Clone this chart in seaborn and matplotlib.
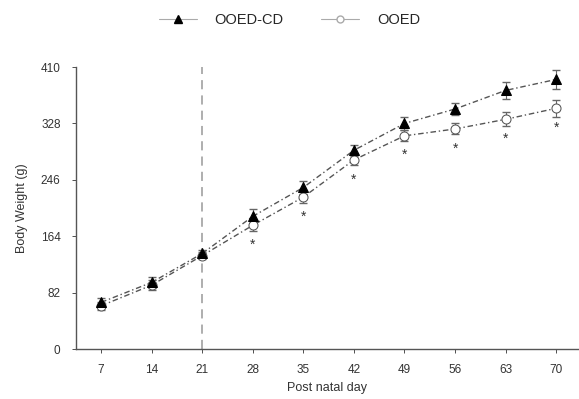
import matplotlib
matplotlib.use("Agg")
import matplotlib.pyplot as plt
import seaborn as sns
import pandas as pd
from matplotlib.lines import Line2D

days = [7, 14, 21, 28, 35, 42, 49, 56, 63, 70]
cd_mean = [68, 97, 139, 193, 235, 289, 328, 349, 376, 392]
cd_err = [6, 8, 5, 10, 9, 8, 9, 9, 12, 14]
ooed_mean = [63, 93, 136, 180, 221, 275, 310, 320, 334, 350]
ooed_err = [6, 7, 5, 8, 9, 8, 8, 8, 10, 12]
sig_days = [28, 35, 42, 49, 56, 63, 70]
yticks = [0, 82, 164, 246, 328, 410]

sns.set_style("ticks")
plt.rcParams['font.family'] = ['Liberation Sans', 'DejaVu Sans']

df = pd.DataFrame({
    "day": days * 2,
    "weight": cd_mean + ooed_mean,
    "group": ["OOED-CD"] * len(days) + ["OOED"] * len(days),
})

fig = plt.figure(figsize=(5.79, 3.99), dpi=100)
ax = fig.add_axes([0.131, 0.125, 0.867, 0.707])

ls = (0, (4, 2, 1, 2))
ax.axvline(21, color="#999999", linestyle=(0, (6, 4)), linewidth=1.1, zorder=1)

ax.errorbar(days, cd_mean, yerr=cd_err, fmt="none", ecolor="#666666", elinewidth=0.8, capsize=3, zorder=2)
ax.errorbar(days, ooed_mean, yerr=ooed_err, fmt="none", ecolor="#666666", elinewidth=0.8, capsize=3, zorder=2)

sns.lineplot(data=df[df.group == "OOED"], x="day", y="weight", ax=ax, color="#555555",
             linestyle=ls, linewidth=1.0, marker="o", markersize=6.5, markerfacecolor="white",
             markeredgecolor="#555555", legend=False, zorder=3)
sns.lineplot(data=df[df.group == "OOED-CD"], x="day", y="weight", ax=ax, color="#555555",
             linestyle=ls, linewidth=1.0, marker="^", markersize=6.5, markerfacecolor="black",
             markeredgecolor="black", legend=False, zorder=4)

for d in sig_days:
    i = days.index(d)
    ax.annotate("*", (d, ooed_mean[i]), xytext=(0, -19), textcoords="offset points",
                ha="center", va="bottom", fontsize=10, color="#333333")

ax.set_xlim(3.5, 73)
ax.set_ylim(0, 410)
ax.set_xticks(days)
ax.set_yticks(yticks)
ax.tick_params(labelsize=8.5, length=3, width=0.6, colors="#333333", pad=8)
ax.tick_params(axis="x", pad=8)
ax.set_xlabel("Post natal day", fontsize=9, color="#333333")
ax.set_ylabel("Body Weight (g)", fontsize=9, color="#333333", labelpad=9)
for s in ["top", "right"]:
    ax.spines[s].set_visible(False)
for s in ["left", "bottom"]:
    ax.spines[s].set_color("#555555")
    ax.spines[s].set_linewidth(1.0)

handles = [
    Line2D([], [], color="#aaaaaa", linestyle="-", linewidth=0.8, marker="^", markersize=6,
           markerfacecolor="black", markeredgecolor="black"),
    Line2D([], [], color="#aaaaaa", linestyle="-", linewidth=0.8, marker="o", markersize=5,
           markerfacecolor="white", markeredgecolor="#aaaaaa"),
]
fig.legend(handles, ["OOED-CD", "OOED"], loc="upper center", bbox_to_anchor=(0.5, 1.0),
           ncol=2, frameon=False, fontsize=10.5, handlelength=2.6, handletextpad=1.2,
           columnspacing=2.6)

fig.savefig("out.png", dpi=100)
